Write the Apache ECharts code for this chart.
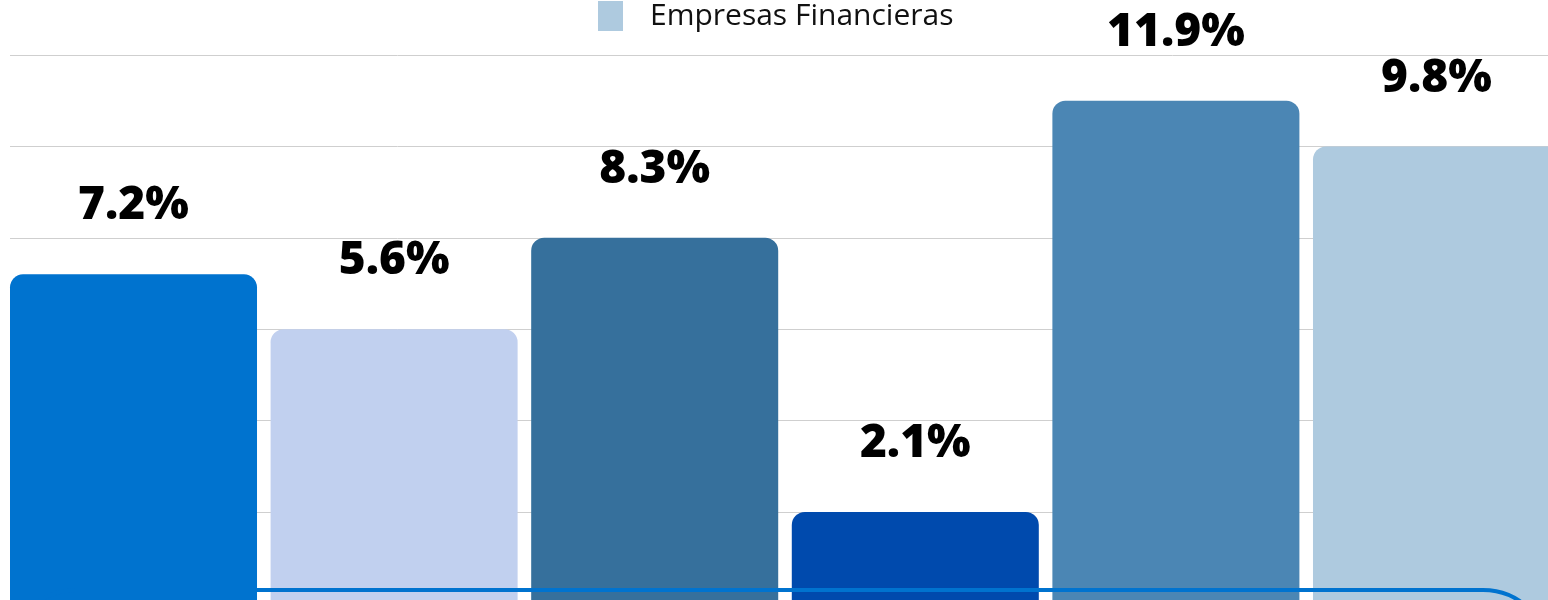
<!DOCTYPE html>
<html>
<head>
<meta charset="utf-8">
<script src="https://cdn.jsdelivr.net/npm/echarts@6/dist/echarts.min.js"></script>
<style>
html,body{margin:0;padding:0;background:#fff;overflow:hidden;width:1548px;height:600px;}
#chart{width:1600px;height:660px;}
</style>
</head>
<body>
<div id="chart"></div>
<script>
// Data
const categories = [''];
const seriesNames = ['Serie 1', 'Serie 2', 'Serie 3', 'Serie 4', 'Serie 5', 'Empresas Financieras'];
const barHeights = [3.6, 3.0, 4.0, 1.0, 5.5, 5.0];       // bar height in grid units as drawn
const labelValues = [7.2, 5.6, 8.3, 2.1, 11.9, 9.8];     // printed percentages
const barColors = ['#0073cf', '#c1d0ef', '#36709c', '#004aad', '#4b86b4', '#aecadf'];
const legendItems = ['Empresas Financieras'];

const chart = echarts.init(document.getElementById('chart'), null, {renderer: 'canvas'});

const series = seriesNames.map((name, i) => ({
  name: name,
  type: 'bar',
  data: [barHeights[i]],
  barGap: '5.5%',
  barCategoryGap: '0%',
  itemStyle: {color: barColors[i], borderRadius: [13, 13, 0, 0]},
  label: {
    show: true,
    position: 'top',
    distance: 45,
    formatter: () => labelValues[i].toFixed(1) + '%',
    fontFamily: '"Open Sans", sans-serif',
    fontWeight: 800,
    fontSize: 46,
    color: '#000'
  },
  silent: true
}));

chart.setOption({
  animation: false,
  legend: {
    data: legendItems.map(n => ({name: n, itemStyle: {color: barColors[seriesNames.indexOf(n)]}})),
    left: 598,
    top: 1,
    padding: 0,
    icon: 'rect',
    itemWidth: 25,
    itemHeight: 30,
    textStyle: {
      fontFamily: '"Open Sans", sans-serif',
      fontSize: 30,
      color: '#111',
      padding: [0, 0, 0, 22]
    }
  },
  grid: {left: 10, top: 55, width: 1550, height: 548.4, containLabel: false},
  xAxis: {
    type: 'category',
    data: categories,
    axisLine: {show: false},
    axisTick: {show: false},
    axisLabel: {show: false}
  },
  yAxis: {
    type: 'value',
    min: 0,
    max: 6,
    interval: 1,
    axisLine: {show: false},
    axisTick: {show: false},
    axisLabel: {show: false},
    splitLine: {lineStyle: {color: '#cfcfcf', width: 1}}
  },
  graphic: [{
    type: 'rect',
    z: 100,
    shape: {x: 10, y: 590, width: 1539, height: 300, r: 66},
    style: {fill: null, stroke: '#0073cf', lineWidth: 4}
  }],
  series: series
});
</script>
</body>
</html>
